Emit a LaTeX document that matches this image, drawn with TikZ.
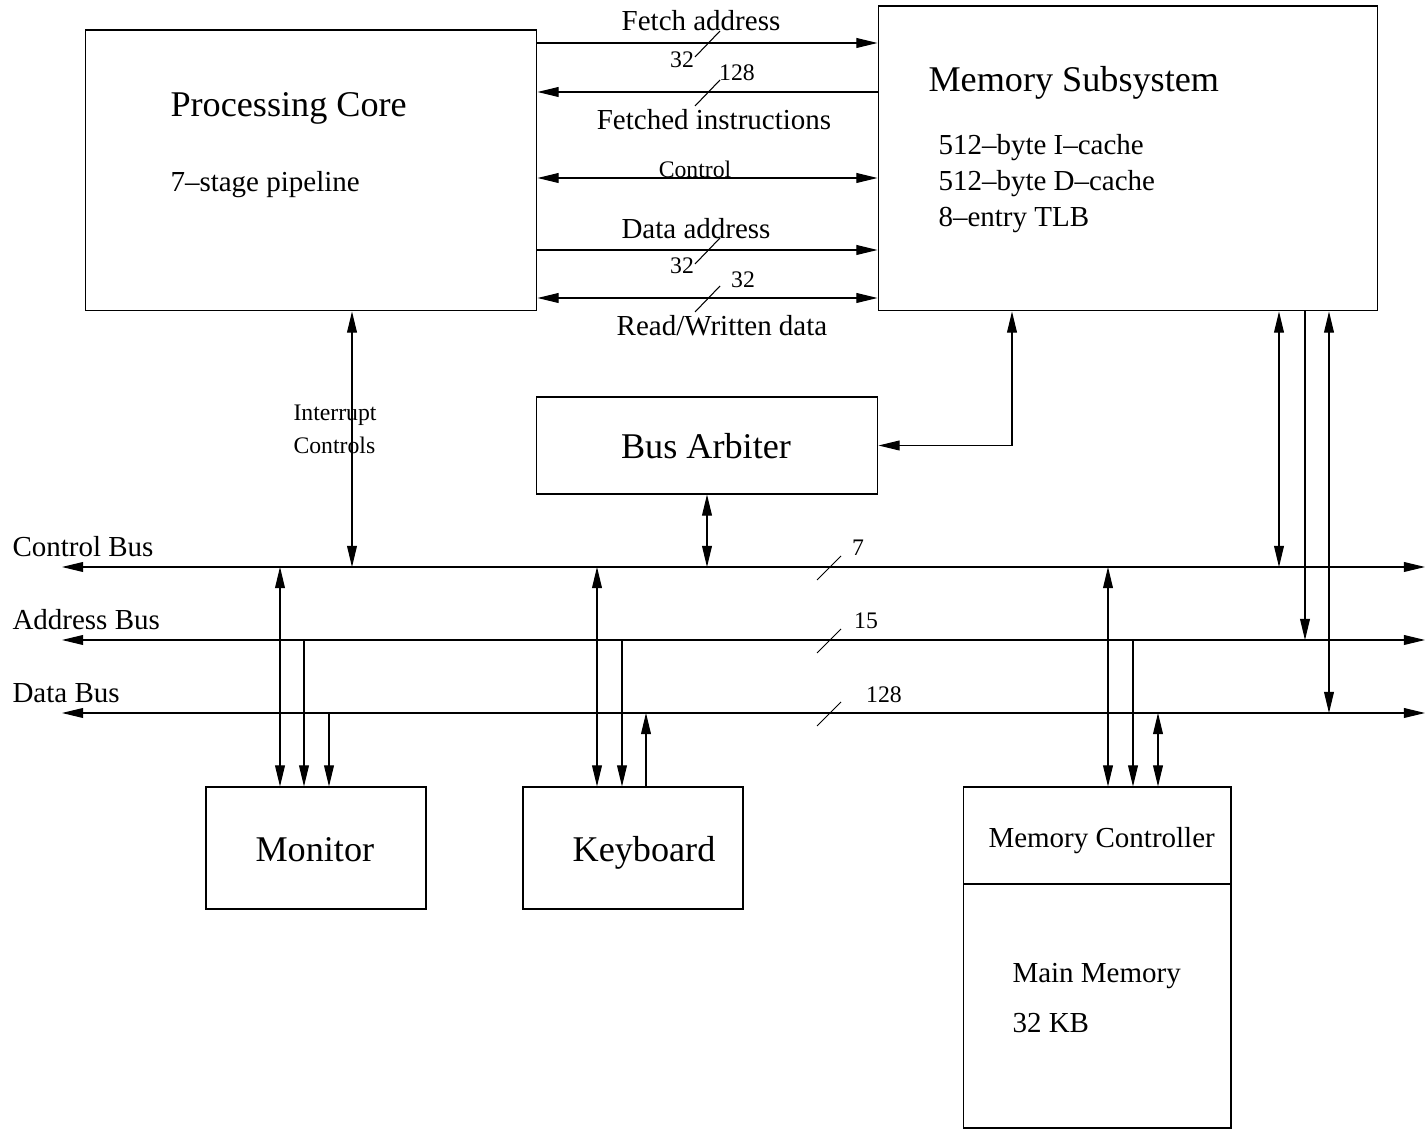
\documentclass[tikz,border=0pt]{standalone}
\usepackage{fontspec}
\setmainfont{Liberation Serif}
\usetikzlibrary{arrows.meta}

\begin{document}
\begin{tikzpicture}[x=0.02cm, y=-0.02cm, line width=0.6pt, >={Triangle[length=12pt,width=5.6pt]}]
            \tikzstyle{unitbox} = [rectangle, draw, inner sep=0pt]
            \tikzstyle{bigtext} = [font=\fontsize{20.6}{24}\selectfont, inner sep=0pt]
            \tikzstyle{midtext} = [font=\fontsize{16.5}{20}\selectfont, inner sep=0pt]
            \tikzstyle{smalltext} = [font=\fontsize{13.5}{16}\selectfont, inner sep=0pt]

            \useasboundingbox (0,0) rectangle (1428,1131);

            \node[unitbox, minimum width=9.04cm, minimum height=5.62cm] (core) at (311,170.5) {};
            \node[unitbox, minimum width=10cm, minimum height=6.1cm] (mem) at (1128,158.5) {};
            \node[unitbox, minimum width=6.84cm, minimum height=1.94cm] (arb) at (707,445.5) {};
            \node[unitbox, minimum width=4.4cm, minimum height=2.44cm] (mon) at (316,848) {};
            \node[unitbox, minimum width=4.4cm, minimum height=2.44cm] (kbd) at (633,848) {};
            \node[unitbox, minimum width=5.36cm, minimum height=1.94cm] (mctl) at (1097,835.5) {};
            \node[unitbox, minimum width=5.36cm, minimum height=4.88cm] (mmem) at (1097,1006) {};

            \node[bigtext, anchor=base west] (coret) at (170,117) {Processing Core};
            \node[midtext, anchor=base west] (pipe) at (170,192) {7--stage pipeline};
            \node[bigtext, anchor=base west] (memt) at (928,92) {Memory Subsystem};
            \node[midtext, anchor=base west] (icache) at (938,155) {512--byte I--cache};
            \node[midtext, anchor=base west] (dcache) at (938,191) {512--byte D--cache};
            \node[midtext, anchor=base west] (tlb) at (938,227) {8--entry TLB};
            \node[bigtext, anchor=base] (arbt) at (706,459) {Bus Arbiter};
            \node[bigtext, anchor=base west] (mont) at (255,862) {Monitor};
            \node[bigtext, anchor=base] (kbdt) at (644,862) {Keyboard};
            \node[midtext, anchor=base west] (mctlt) at (988,848) {Memory Controller};
            \node[midtext, anchor=base west] (mmemt) at (1012,983) {Main Memory};
            \node[midtext, anchor=base west] (msize) at (1012,1032) {32 KB};

            \draw[->] (core.east |- 0,43) -- (mem.west |- 0,43);
            \draw[<-] (core.east |- 0,92) -- (mem.west |- 0,92);
            \draw[<->] (core.east |- 0,178) -- (mem.west |- 0,178);
            \draw[->] (core.east |- 0,250) -- (mem.west |- 0,250);
            \draw[<->] (core.east |- 0,298) -- (mem.west |- 0,298);
            \foreach \y in {43,92,250,298}
                \draw (695,\y+14) -- (720,\y-12);

            \node[midtext, anchor=base] (fetcha) at (701,31) {Fetch address};
            \node[smalltext, anchor=base] (fetchw) at (682,68) {32};
            \node[smalltext, anchor=base] (instw) at (737,81) {128};
            \node[midtext, anchor=base] (insts) at (714,130) {Fetched instructions};
            \node[smalltext, anchor=base] (ctrl) at (695,178) {Control};
            \node[midtext, anchor=base] (dataa) at (696,239) {Data address};
            \node[smalltext, anchor=base] (dataaw) at (682,274) {32};
            \node[smalltext, anchor=base] (rwdw) at (743,288) {32};
            \node[midtext, anchor=base] (rwd) at (722,336) {Read/Written data};

            \coordinate (cbw) at (62,567);
            \coordinate (cbe) at (1425,567);
            \coordinate (abw) at (62,640);
            \coordinate (abe) at (1425,640);
            \coordinate (dbw) at (62,713);
            \coordinate (dbe) at (1425,713);
            \draw[<->] (cbw) -- (cbe);
            \draw[<->] (abw) -- (abe);
            \draw[<->] (dbw) -- (dbe);
            \foreach \y in {567,640,713}
                \draw (817,\y+13) -- (841,\y-11);

            \node[midtext, anchor=base west] (cbl) at (12,557) {Control Bus};
            \node[midtext, anchor=base west] (abl) at (12,630) {Address Bus};
            \node[midtext, anchor=base west] (dbl) at (12,703) {Data Bus};
            \node[smalltext, anchor=base] (cbw7) at (858,556) {7};
            \node[smalltext, anchor=base] (abw15) at (866,629) {15};
            \node[smalltext, anchor=base] (dbw128) at (884,703) {128};

            \draw[<->] (core.south -| 352,0) -- (cbw -| 352,0);
            \node[smalltext, anchor=base west] (intr) at (293,421) {Interrupt};
            \node[smalltext, anchor=base west] (intc) at (293,454) {Controls};

            \draw[<->] (arb.east) -| (mem.south -| 1012,0);
            \draw[<->] (arb.south) -- (arb.south |- cbw);

            \draw[<->] (mem.south -| 1279,0) -- (cbw -| 1279,0);
            \draw[->] (mem.south -| 1305,0) -- (abw -| 1305,0);
            \draw[<->] (mem.south -| 1329,0) -- (dbw -| 1329,0);

            \draw[<->] (cbw -| 280,0) -- (mon.north -| 280,0);
            \draw[->] (abw -| 304,0) -- (mon.north -| 304,0);
            \draw[->] (dbw -| 329,0) -- (mon.north -| 329,0);

            \draw[<->] (cbw -| 597,0) -- (kbd.north -| 597,0);
            \draw[->] (abw -| 622,0) -- (kbd.north -| 622,0);
            \draw[->] (kbd.north -| 646,0) -- (dbw -| 646,0);

            \draw[<->] (cbw -| 1108,0) -- (mctl.north -| 1108,0);
            \draw[->] (abw -| 1133,0) -- (mctl.north -| 1133,0);
            \draw[<->] (dbw -| 1158,0) -- (mctl.north -| 1158,0);
        \end{tikzpicture}
\end{document}
